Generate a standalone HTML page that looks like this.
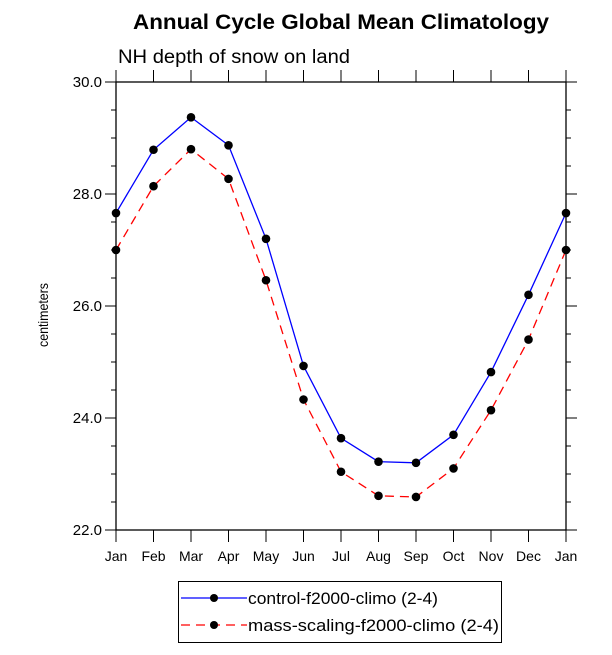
<!DOCTYPE html>
<html><head><meta charset="utf-8"><style>
body{margin:0;background:#fff;}
svg{display:block;font-family:"Liberation Sans",Arial,sans-serif;}
</style></head><body>
<svg id="chart" width="612" height="655" viewBox="0 0 612 655">
<text x="133" y="29" font-size="21" font-weight="bold" textLength="416" lengthAdjust="spacingAndGlyphs">Annual Cycle Global Mean Climatology</text>
<text x="118" y="63" font-size="19" textLength="232" lengthAdjust="spacingAndGlyphs">NH depth of snow on land</text>
<text transform="translate(48,315) rotate(-90)" text-anchor="middle" font-size="14" textLength="64" lengthAdjust="spacingAndGlyphs">centimeters</text>
<g id="axes"></g>
<g id="series"></g>
<g>
<rect x="178.5" y="581.5" width="323" height="61" fill="#fff" stroke="#000" stroke-width="1"/>
<line x1="181" y1="598" x2="247" y2="598" stroke="#0000ff" stroke-width="1.3"/>
<circle cx="214" cy="598" r="4" fill="#000"/>
<text x="248" y="604" font-size="17" textLength="190" lengthAdjust="spacingAndGlyphs">control-f2000-climo (2-4)</text>
<line x1="181" y1="625" x2="247" y2="625" stroke="#ff0000" stroke-width="1.3" stroke-dasharray="9,6"/>
<circle cx="214" cy="625" r="4" fill="#000"/>
<text x="248" y="631" font-size="17" textLength="251" lengthAdjust="spacingAndGlyphs">mass-scaling-f2000-climo (2-4)</text>
</g>
</svg>
<script>
const months=["Jan","Feb","Mar","Apr","May","Jun","Jul","Aug","Sep","Oct","Nov","Dec","Jan"];
const controlValues=[27.66,28.79,29.37,28.87,27.2,24.93,23.64,23.22,23.2,23.7,24.82,26.2,27.66];
const massScalingValues=[27.0,28.14,28.8,28.27,26.46,24.33,23.04,22.61,22.59,23.1,24.14,25.4,27.0];
const yTickLabels=["22.0","24.0","26.0","28.0","30.0"];
const yTickValues=[22,24,26,28,30];
const L=116,R=566,T=82,B=530,yMin=22,yMax=30;
const xs=i=>L+(R-L)*i/(months.length-1);
const ys=v=>B-(v-yMin)/(yMax-yMin)*(B-T);
const NS="http://www.w3.org/2000/svg";
function mk(tag,attrs,parent){const e=document.createElementNS(NS,tag);for(const k in attrs)e.setAttribute(k,attrs[k]);parent.appendChild(e);return e;}
const ax=document.getElementById('axes');
const frame=mk('rect',{x:L,y:T,width:R-L,height:B-T,fill:'none',stroke:'#000','stroke-width':1.3},ax);


months.forEach((m,i)=>{
  const x=xs(i);
  mk('line',{x1:x,y1:B,x2:x,y2:B+12,stroke:'#000','stroke-width':1},ax);
  mk('line',{x1:x,y1:T,x2:x,y2:T-12,stroke:'#000','stroke-width':1},ax);
  const t=mk('text',{x:x,y:B+31,'text-anchor':'middle','font-size':14},ax);
  t.textContent=m;
  
  
});
for(let v=yMin;v<=yMax+1e-9;v+=0.5){
  const y=ys(v), major=Math.abs(v-Math.round(v/2)*2)<1e-9, len=major?11:5;
  mk('line',{x1:L-len,y1:y,x2:L,y2:y,stroke:'#000','stroke-width':1},ax);
  mk('line',{x1:R,y1:y,x2:R+len,y2:y,stroke:'#000','stroke-width':1},ax);
}
yTickValues.forEach((v,i)=>{
  const t=mk('text',{x:L-14,y:ys(v)+5,'text-anchor':'end','font-size':15},ax);
  t.textContent=yTickLabels[i];
  
  
});
const sg=document.getElementById('series');
function drawSeries(vals,color,dash,name){
  const p=mk('polyline',{points:vals.map((v,i)=>xs(i)+','+ys(v)).join(' '),fill:'none',stroke:color,'stroke-width':1.3},sg);
  if(dash)p.setAttribute('stroke-dasharray',dash);
  
  
  vals.forEach((v,i)=>{
    const c=mk('circle',{cx:xs(i),cy:ys(v),r:4.3,fill:'#000'},sg);
    
    
  });
}
drawSeries(controlValues,'#0000ff',null,'control');
drawSeries(massScalingValues,'#ff0000','9,6','mass-scaling');
</script>
</body></html>
